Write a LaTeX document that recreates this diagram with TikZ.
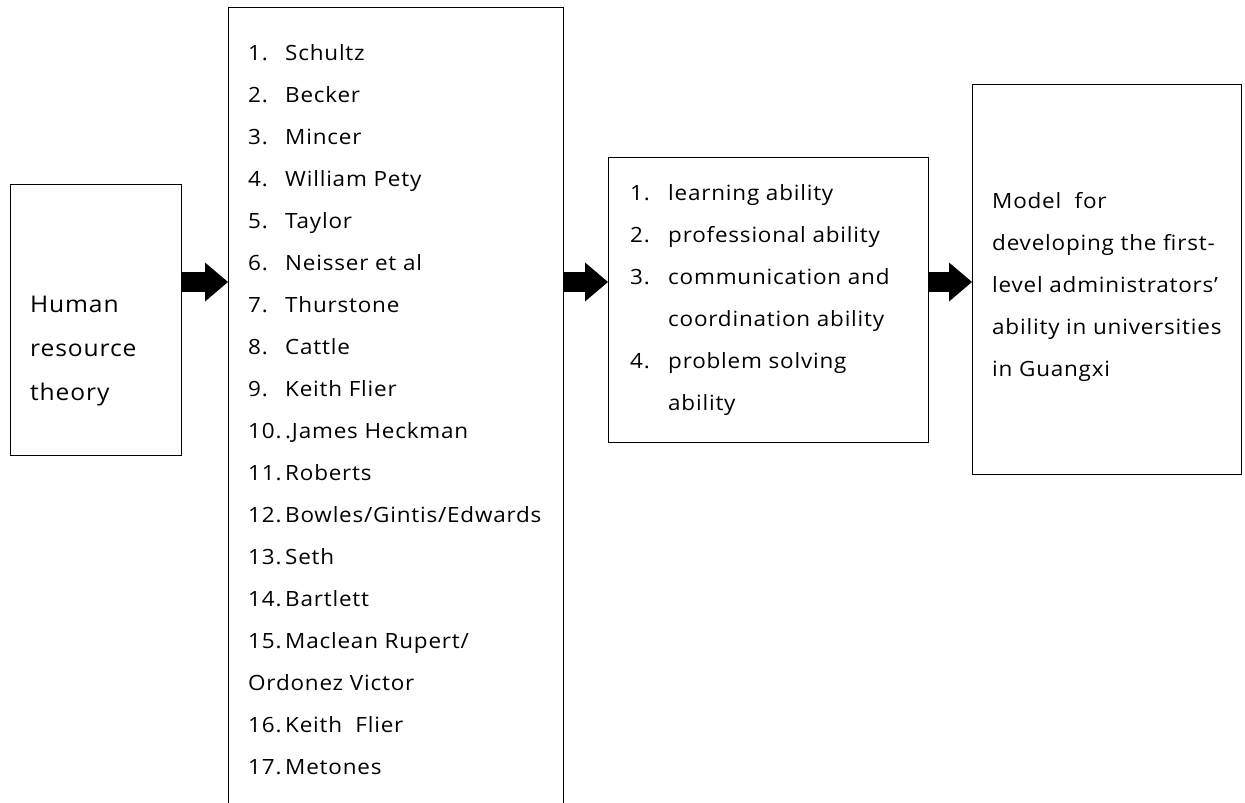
\documentclass[tikz,border=0pt]{standalone}
\usepackage{fontspec}
\setmainfont{Open Sans}
\newfontfamily\widefont[FakeStretch=1.07,LetterSpace=3.8]{Open Sans}
\usetikzlibrary{arrows.meta}
\begin{document}
\begin{tikzpicture}[x=1pt,y=-1pt,
  box/.style={draw, line width=1pt, inner sep=0pt, anchor=north west},
  txt/.style={anchor=base west, inner sep=0pt, font=\widefont\fontsize{21}{21}\selectfont},
  big/.style={anchor=base west, inner sep=0pt, font=\widefont\fontsize{23}{23}\selectfont},
  arr/.style={line width=20pt, -{Triangle[length=23pt 0 0, width=39pt 0 0, line width=0pt]}}]
\useasboundingbox (0,0) rectangle (1245,803);
\clip (0,0) rectangle (1245,803);
% boxes
\node[box, minimum width=171pt, minimum height=271pt] (b1) at (10,184) {};
\node[box, minimum width=335pt, minimum height=823pt] (b2) at (228,7) {};
\node[box, minimum width=320pt, minimum height=285pt] (b3) at (608,157) {};
\node[box, minimum width=269pt, minimum height=390pt] (b4) at (972,84) {};
% arrows
\draw[arr] (b1.east |- 0,282) -- (b2.west |- 0,282);
\draw[arr] (b2.east |- 0,282) -- (b3.west |- 0,282);
\draw[arr] (b3.east |- 0,282) -- (b4.west |- 0,282);
% box 1
\node[big] (h1) at (30,312) {Human};
\node[big] (h2) at (30,356) {resource};
\node[big] (h3) at (30,400) {theory};
% box 2
\node[txt] (n1) at (248,60) {1.};   \node[txt] (t1) at (285,60) {Schultz};
\node[txt] (n2) at (248,102) {2.};  \node[txt] (t2) at (285,102) {Becker};
\node[txt] (n3) at (248,144) {3.};  \node[txt] (t3) at (285,144) {Mincer};
\node[txt] (n4) at (248,186) {4.};  \node[txt] (t4) at (285,186) {William Pety};
\node[txt] (n5) at (248,228) {5.};  \node[txt] (t5) at (285,228) {Taylor};
\node[txt] (n6) at (248,270) {6.};  \node[txt] (t6) at (285,270) {Neisser et al};
\node[txt] (n7) at (248,312) {7.};  \node[txt] (t7) at (285,312) {Thurstone};
\node[txt] (n8) at (248,354) {8.};  \node[txt] (t8) at (285,354) {Cattle};
\node[txt] (n9) at (248,396) {9.};  \node[txt] (t9) at (285,396) {Keith Flier};
\node[txt] (n10) at (248,438) {10.}; \node[txt] (t10) at (285,438) {.James Heckman};
\node[txt] (n11) at (248,480) {11.}; \node[txt] (t11) at (285,480) {Roberts};
\node[txt] (n12) at (248,522) {12.}; \node[txt] (t12) at (285,522) {Bowles/Gintis/Edwards};
\node[txt] (n13) at (248,564) {13.}; \node[txt] (t13) at (285,564) {Seth};
\node[txt] (n14) at (248,606) {14.}; \node[txt] (t14) at (285,606) {Bartlett};
\node[txt] (n15) at (248,648) {15.}; \node[txt] (t15) at (285,648) {Maclean Rupert/};
\node[txt] (t15b) at (248,690) {Ordonez Victor};
\node[txt] (n16) at (248,732) {16.}; \node[txt] (t16) at (285,732) {Keith\ \ Flier};
\node[txt] (n17) at (248,774) {17.}; \node[txt] (t17) at (285,774) {Metones};
% box 3
\node[txt] (m1) at (630,200) {1.}; \node[txt] (s1) at (668,200) {learning ability};
\node[txt] (m2) at (630,242) {2.}; \node[txt] (s2) at (668,242) {professional ability};
\node[txt] (m3) at (630,284) {3.}; \node[txt] (s3) at (668,284) {communication and};
\node[txt] (s3b) at (668,326) {coordination ability};
\node[txt] (m4) at (630,368) {4.}; \node[txt] (s4) at (668,368) {problem solving};
\node[txt] (s4b) at (668,410) {ability};
% box 4
\node[txt] (r1) at (992,208) {Model\ \ for};
\node[txt] (r2) at (992,250) {developing the first-};
\node[txt] (r3) at (992,292) {level administrators’};
\node[txt] (r4) at (992,334) {ability in universities};
\node[txt] (r5) at (992,376) {in Guangxi};
\end{tikzpicture}
\end{document}
